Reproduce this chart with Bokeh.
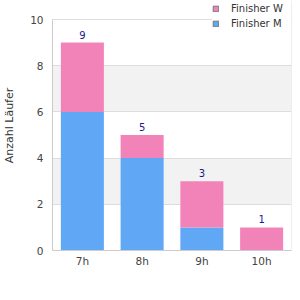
from bokeh.plotting import figure
from bokeh.models import (ColumnDataSource, FixedTicker, Legend, LegendItem,
                          Span, BoxAnnotation)
from bokeh.embed import file_html
from bokeh.resources import INLINE
from bokeh.core.properties import value

categories = ["7h", "8h", "9h", "10h"]
finisher_m = [6, 4, 1, 0]
finisher_w = [3, 1, 2, 1]
totals = [m + w for m, w in zip(finisher_m, finisher_w)]
y_ticks = [0, 2, 4, 6, 8, 10]

PINK = "#f283b9"
BLUE = "#60a8f5"
FONT = "DejaVu Sans"
Y_TOP = 10 * 250 / 231  # extra room above 10 for the legend

src = ColumnDataSource(dict(cat=categories, m=finisher_m, w=finisher_w,
                            total=totals, label=[str(t) for t in totals]))

p = figure(x_range=categories, y_range=(0, Y_TOP), width=300, height=300,
           output_backend="svg", toolbar_location=None,
           min_border_left=50, min_border_right=9, min_border_top=0,
           min_border_bottom=50)
p.outline_line_color = None
p.background_fill_color = "white"

# alternating bands between every other pair of ticks
for lo, hi in zip(y_ticks[1::2], y_ticks[2::2]):
    p.add_layout(BoxAnnotation(bottom=lo, top=hi, fill_color="#f2f2f2",
                               fill_alpha=1, line_color=None, level="image"))

rs = p.vbar_stack(["m", "w"], x="cat", width=0.72, source=src,
                  color=[BLUE, PINK], line_color=None)

p.text(x="cat", y="total", text="label", source=src, text_align="center",
       text_baseline="bottom", y_offset=-4, text_color="#1a1a8c",
       text_font=value(FONT), text_font_size="10px")

# right border line of the plot area
p.add_layout(Span(location=len(categories), dimension="height",
                  line_color="#dddddd", line_width=1))

# legend proxies (drawn outside the visible range)
lw = p.rect(x=[categories[0]], y=[-100], width=0.1, height=0.1,
            fill_color=PINK, line_color="#777777")
lm = p.rect(x=[categories[0]], y=[-100], width=0.1, height=0.1,
            fill_color=BLUE, line_color="#777777")
legend = Legend(items=[LegendItem(label="Finisher W", renderers=[lw]),
                       LegendItem(label="Finisher M", renderers=[lm])],
                location=(160, 221), glyph_width=7, glyph_height=7,
                label_text_font=FONT, label_text_font_size="10px",
                label_text_color="#333333", spacing=4, padding=6,
                margin=0, border_line_color=None, background_fill_color="white",
                background_fill_alpha=1, label_standoff=12, label_height=8,
                label_width=70)
p.add_layout(legend, "center")

p.yaxis.ticker = FixedTicker(ticks=y_ticks)
p.yaxis.bounds = (0, 10)
p.ygrid.ticker = FixedTicker(ticks=y_ticks)
p.ygrid.grid_line_color = "#dddddd"
p.ygrid.band_fill_color = None
p.xgrid.grid_line_color = None

for ax in (p.xaxis[0], p.yaxis[0]):
    ax.axis_line_color = "#cccccc"
    ax.major_tick_line_color = None
    ax.minor_tick_line_color = None
    ax.major_tick_out = 0
    ax.major_tick_in = 0
    ax.major_label_text_color = "#444444"
    ax.major_label_text_font = FONT
    ax.major_label_text_font_size = "10.5px"

p.xaxis.major_label_standoff = 4
p.yaxis.major_label_standoff = 9
p.yaxis.axis_label = "Anzahl Läufer"
p.yaxis.axis_label_text_font = FONT
p.yaxis.axis_label_text_font_size = "11px"
p.yaxis.axis_label_text_font_style = "normal"
p.yaxis.axis_label_text_color = "#333333"
p.yaxis.axis_label_standoff = 11

open("out.html", "w").write(file_html(p, INLINE))
